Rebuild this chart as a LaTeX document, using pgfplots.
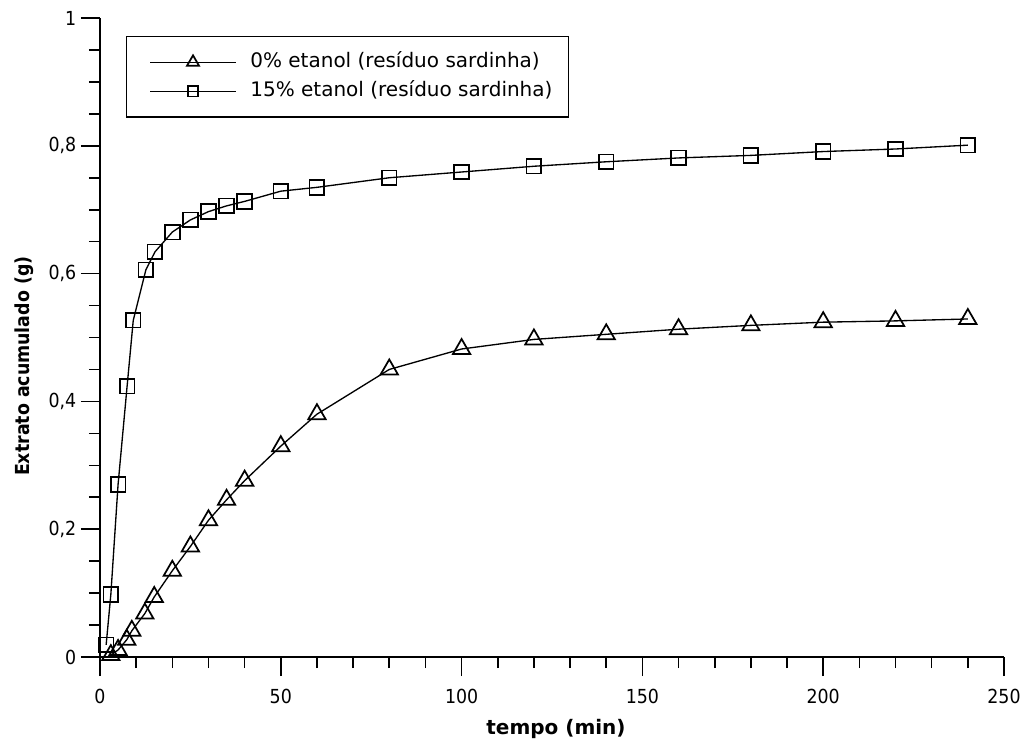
\documentclass[border=0pt]{standalone}
\usepackage{fontspec}
\setmainfont{DejaVu Sans Condensed}
\newfontfamily\widefont{DejaVu Sans}
\usepackage{pgfplots}
\pgfplotsset{compat=1.18}
\begin{document}
\begin{tikzpicture}
\path[use as bounding box] (-75pt,-65.25pt) rectangle (693.75pt,492.75pt);
\begin{axis}[
  at={(0pt,0pt)}, anchor=south west,
  width=678pt, height=479.25pt, scale only axis,
  xmin=0, xmax=250, ymin=0, ymax=1,
  axis x line*=bottom, axis y line*=left,
  axis line style={-, line width=1.2pt, black},
  xtick={0,50,100,150,200,250},
  minor xtick={10,20,30,40,60,70,80,90,110,120,130,140,160,170,180,190,210,220,230,240},
  ytick={0,0.2,0.4,0.6,0.8,1},
  yticklabels={0,{0,2},{0,4},{0,6},{0,8},1},
  minor ytick={0.05,0.1,0.15,0.25,0.3,0.35,0.45,0.5,0.55,0.65,0.7,0.75,0.85,0.9,0.95},
  tick align=outside,
  major tick length=14.25pt, minor tick length=8.25pt,
  every tick/.style={black, line width=1.2pt},
  tick label style={font=\fontsize{14.5}{17}\selectfont},
  xticklabel style={yshift=-6pt},
  /pgf/number format/assume math mode=true,
  xlabel={\bfseries tempo (min)},
  ylabel={\bfseries Extrato acumulado (g)},
  xlabel style={at={(rel axis cs:0.5,0)}, anchor=center, yshift=-54pt, xshift=3pt, font=\widefont\fontsize{15}{18}\selectfont},
  ylabel style={at={([xshift=-57pt]rel axis cs:0,0.455)}, anchor=center, font=\fontsize{14.5}{17}\selectfont},
  legend style={at={(rel axis cs:0.0288,0.9718)}, anchor=north west, draw=black, line width=1pt,
    font=\widefont\fontsize{15}{18}\selectfont, inner xsep=12pt, inner ysep=12pt, row sep=7.25pt,
    nodes={inner sep=0pt, text height=11pt, text depth=3.5pt}},
  legend cell align=left,
  legend image code/.code={\path (-5.25pt,0pt) (74.5pt,0pt); \draw[mark repeat=2, mark phase=2, #1, every mark/.append style={scale=0.7}] plot coordinates {(0pt,0pt) (32pt,0pt) (64pt,0pt)};},
]
\addplot[black, line width=1pt, mark=triangle, mark size=7.5pt, mark options={solid, line width=1.3pt, fill=white}]
coordinates {
(3,0.003) (5,0.011) (7.4,0.027) (8.8,0.041) (12.4,0.068) (15,0.094) (20,0.135) (25,0.173) (30,0.214) (35,0.246) (40,0.276) (50,0.330) (60,0.380) (80,0.450) (100,0.482) (120,0.497) (140,0.505) (160,0.513) (180,0.519) (200,0.524) (220,0.526) (240,0.529)
};
\addlegendentry{0\% etanol (resíduo sardinha)}
\addplot[black, line width=1pt, mark=square, mark size=5.5pt, mark options={solid, line width=1.3pt, fill=white}]
coordinates {
(1.7,0.019) (3,0.098) (5,0.270) (7.5,0.424) (9.2,0.527) (12.7,0.606) (15.2,0.634) (20,0.665) (25,0.684) (30,0.697) (35,0.706) (40,0.713) (50,0.729) (60,0.735) (80,0.750) (100,0.759) (120,0.768) (140,0.775) (160,0.781) (180,0.785) (200,0.791) (220,0.795) (240,0.801)
};
\addlegendentry{15\% etanol (resíduo sardinha)\hspace{5pt}}
\end{axis}
\end{tikzpicture}
\end{document}
